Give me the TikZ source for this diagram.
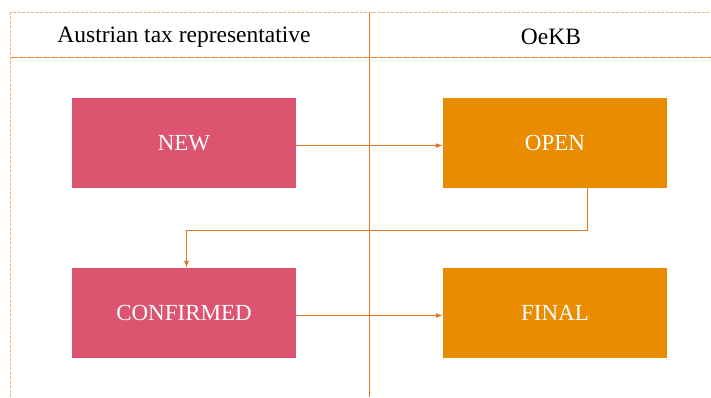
\documentclass[tikz,border=0pt]{standalone}
\usepackage{fontspec}
\setmainfont{Liberation Serif}
\usetikzlibrary{arrows.meta}
\definecolor{newred}{HTML}{DC5470}
\definecolor{oekbor}{HTML}{EA8C00}
\definecolor{laneline}{HTML}{E37520}
\definecolor{laneframe}{HTML}{F4B57A}

\begin{document}
\begin{tikzpicture}[x=1pt,y=-1pt,
  state/.style={minimum width=224pt, minimum height=90pt, inner sep=0pt, text=white, font=\fontsize{23}{26}\selectfont},
  lane/.style={font=\fontsize{23.5}{27}\selectfont},
  flow/.style={draw=laneline, line width=1pt, -{Latex[length=7pt,width=5pt]}}]
\useasboundingbox (0,0) rectangle (711,397);
\draw[laneframe, line width=1pt, dash pattern=on 3pt off 1.5pt] (10.5,397) -- (10.5,12.5) -- (711,12.5);
\draw[laneline!90, line width=1pt, dash pattern=on 7pt off 1pt] (10.5,57.5) -- (711,57.5);
\draw[laneline, line width=1pt] (369.5,12.5) -- (369.5,397);
\node[lane] (tax) at (184,37) {Austrian tax representative};
\node[lane] (oekb) at (551,37) {OeKB};
\node[state, fill=newred] (new) at (184,143) {NEW};
\node[state, fill=oekbor] (open) at (555,143) {OPEN};
\node[state, fill=newred] (confirmed) at (184,313) {CONFIRMED};
\node[state, fill=oekbor] (final) at (555,313) {FINAL};
\coordinate (turn) at (587.5,230.5);
\coordinate (drop) at (186.5,230.5);
\draw[flow] (open.south -| turn) -- (turn) -- (drop) -- (confirmed.north -| drop);
\draw[flow] ([yshift=-2.5pt]new.east) -- ([yshift=-2.5pt]open.west);
\draw[flow] ([yshift=-2.5pt]confirmed.east) -- ([yshift=-2.5pt]final.west);
\end{tikzpicture}
\end{document}
